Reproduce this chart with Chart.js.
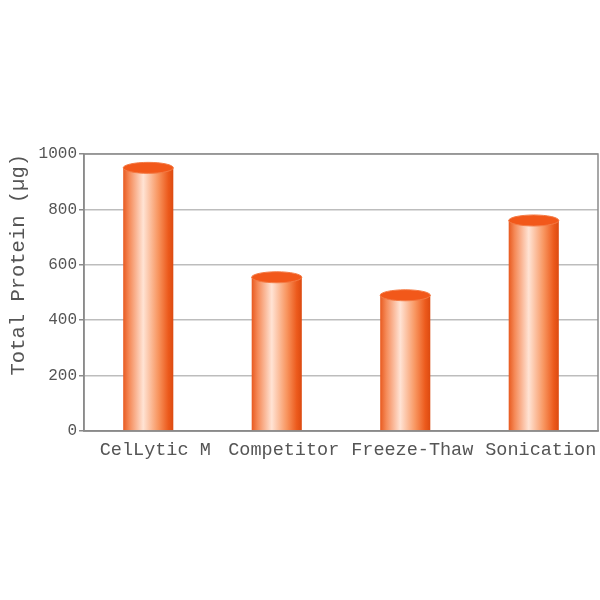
<!DOCTYPE html>
<html>
<head>
<meta charset="utf-8">
<script src="https://cdn.jsdelivr.net/npm/chart.js@4"></script>
<style>
  html, body { margin: 0; padding: 0; background: #fff; }
  #wrap { width: 600px; height: 600px; }
</style>
</head>
<body>
<div id="wrap"><canvas id="chart"></canvas></div>
<script>
const ctx = document.getElementById("chart");

const methods = ["CelLytic M", "Competitor", "Freeze-Thaw", "Sonication"];
const protein = [950, 555, 490, 760];
const yTicks = [0, 200, 400, 600, 800, 1000];

const barPct = 0.39;
const monoFont = "'Liberation Mono', 'Courier New', monospace";

// horizontal shading so each bar looks like a cylinder
function cylinderFill(c) {
  const chart = c.chart;
  const xs = chart.scales.x;
  if (!chart.chartArea || !xs) return "#f07a40";
  const cx = xs.getPixelForValue(c.dataIndex);
  const w = xs.width / methods.length * barPct;
  const g = chart.ctx.createLinearGradient(cx - w / 2, 0, cx + w / 2, 0);
  g.addColorStop(0, "#e85a20");
  g.addColorStop(0.12, "#f58a58");
  g.addColorStop(0.4, "#ffe3d4");
  g.addColorStop(0.7, "#f8955f");
  g.addColorStop(0.9, "#ec5a1c");
  g.addColorStop(1, "#dc4a10");
  return g;
}

const cylinderCaps = {
  id: "cylinderCaps",
  afterDatasetsDraw(chart) {
    const c = chart.ctx;
    chart.getDatasetMeta(0).data.forEach((el) => {
      c.save();
      c.beginPath();
      c.ellipse(el.x, el.y, el.width / 2, 5.5, 0, 0, Math.PI * 2);
      c.fillStyle = "#f2581a";
      c.fill();
      c.lineWidth = 1;
      c.strokeStyle = "#f47a44";
      c.stroke();
      c.restore();
    });
  },
};

// grey frame round the plot area
const frame = {
  id: "frame",
  afterDraw(chart) {
    const a = chart.chartArea;
    const c = chart.ctx;
    c.save();
    c.strokeStyle = "#8a8a8a";
    c.lineWidth = 1.5;
    c.strokeRect(a.left, a.top, a.right - a.left, a.bottom - a.top);
    c.restore();
  },
};

new Chart(ctx, {
  type: "bar",
  data: {
    labels: methods,
    datasets: [
      {
        label: "Total Protein",
        data: protein,
        backgroundColor: cylinderFill,
        borderWidth: 0,
        barPercentage: barPct,
        categoryPercentage: 1,
      },
    ],
  },
  options: {
    responsive: true,
    maintainAspectRatio: false,
    animation: false,
    layout: { padding: { top: 154, right: 2, bottom: 129, left: 0 } },
    plugins: {
      legend: { display: false },
      tooltip: { enabled: false },
    },
    scales: {
      x: {
        grid: { display: false },
        border: { display: true, color: "#8a8a8a", width: 1.5 },
        ticks: {
          color: "#555",
          font: { family: monoFont, size: 18.5 },
          padding: 0,
          labelOffset: 7,
          maxRotation: 0,
          autoSkip: false,
        },
        afterFit(scale) { scale.height = 40; },
      },
      y: {
        min: 0,
        max: 1000,
        afterBuildTicks(scale) { scale.ticks = yTicks.map((v) => ({ value: v })); },
        grid: { color: "#bdbdbd", lineWidth: 1.5, tickLength: 5, tickColor: "#8a8a8a" },
        border: { display: true, color: "#8a8a8a", width: 1.5 },
        ticks: {
          color: "#555",
          font: { family: monoFont, size: 16 },
          padding: 2,
          callback: (v) => String(v),
        },
        title: {
          display: true,
          text: "Total Protein (µg)",
          align: "end",
          color: "#555",
          font: { family: monoFont, size: 20.5 },
          padding: { top: 6, bottom: 0 },
        },
        afterFit(scale) { scale.width = 84; },
      },
    },
  },
  plugins: [cylinderCaps, frame],
});
</script>
</body>
</html>
